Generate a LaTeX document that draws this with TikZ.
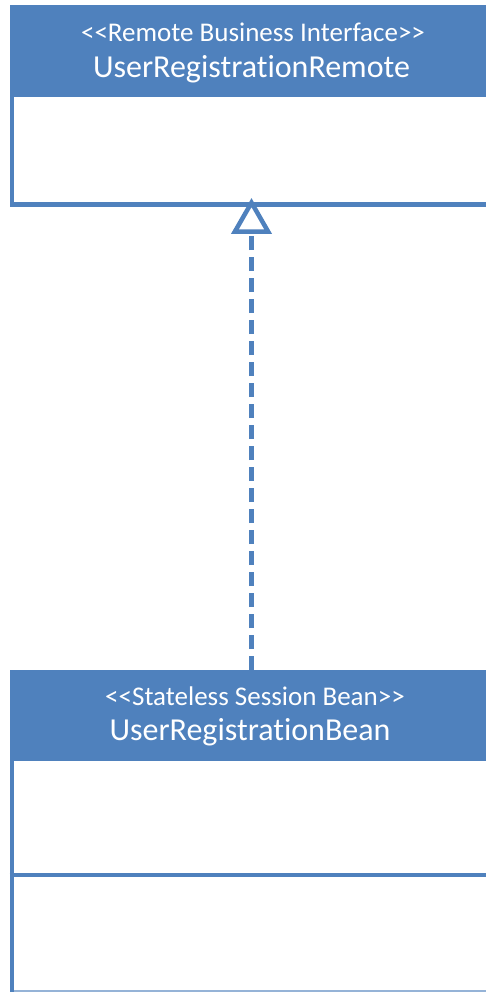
\documentclass[tikz,border=0pt]{standalone}
\usepackage{fontspec}
\setmainfont{Carlito}[Ligatures=NoCommon]
\usetikzlibrary{arrows.meta}
\definecolor{umlblue}{HTML}{4F81BD}
\tikzset{
  hdr/.style={fill=umlblue, draw=none, anchor=north west, inner sep=0},
  stereo/.style={text=white, font=\fontsize{27}{32}\selectfont, anchor=base, inner sep=0},
  cname/.style={text=white, font=\fontsize{32}{38}\selectfont, anchor=base, inner sep=0},
  border/.style={draw=umlblue, line width=4.5pt},
  realize/.style={draw=umlblue, line width=4.5pt, dash pattern=on 14pt off 7pt,
    -{Triangle[open, length=36pt, width=40pt, line width=4.5pt, fill=white]}},
}
\begin{document}
\begin{tikzpicture}[x=1pt,y=-1pt]
\useasboundingbox (0,0) rectangle (486,992);
% top class
\node[hdr, minimum width=476.5pt, minimum height=92pt] (rh) at (9.5,5) {};
\node[stereo] (rs) at (253,41.5) {{<}{<}Remote Business Interface{>}{>}};
\node[cname] (rn) at (251.5,78) {UserRegistrationRemote};
\coordinate (rtl) at (11.75,97);
\coordinate (rbl) at (11.75,204.5);
\coordinate (rbr) at (486,204.5);
\draw[border] (rtl) -- (rbl) -- (rbr);
\coordinate (rtip) at (251.5,198);
% bottom class
\node[hdr, minimum width=476.5pt, minimum height=91pt] (bh) at (9.5,670) {};
\node[stereo] (bs) at (255,705) {{<}{<}Stateless Session Bean{>}{>}};
\node[cname] (bn) at (250,740.5) {UserRegistrationBean};
\coordinate (btl) at (11.75,761);
\coordinate (bbl) at (11.75,992);
\draw[border] (btl) -- (bbl);
\coordinate (bsl) at (9.5,875);
\coordinate (bsr) at (486,875);
\draw[border] (bsl) -- (bsr);
\coordinate (bfl) at (14,991);
\coordinate (bfr) at (486,991);
\draw[draw=umlblue!60, line width=1.5pt] (bfl) -- (bfr);
% realization
\coordinate (bsrc) at (251.5,670);
\draw[realize] (bsrc) -- (rtip);
\end{tikzpicture}
\end{document}
